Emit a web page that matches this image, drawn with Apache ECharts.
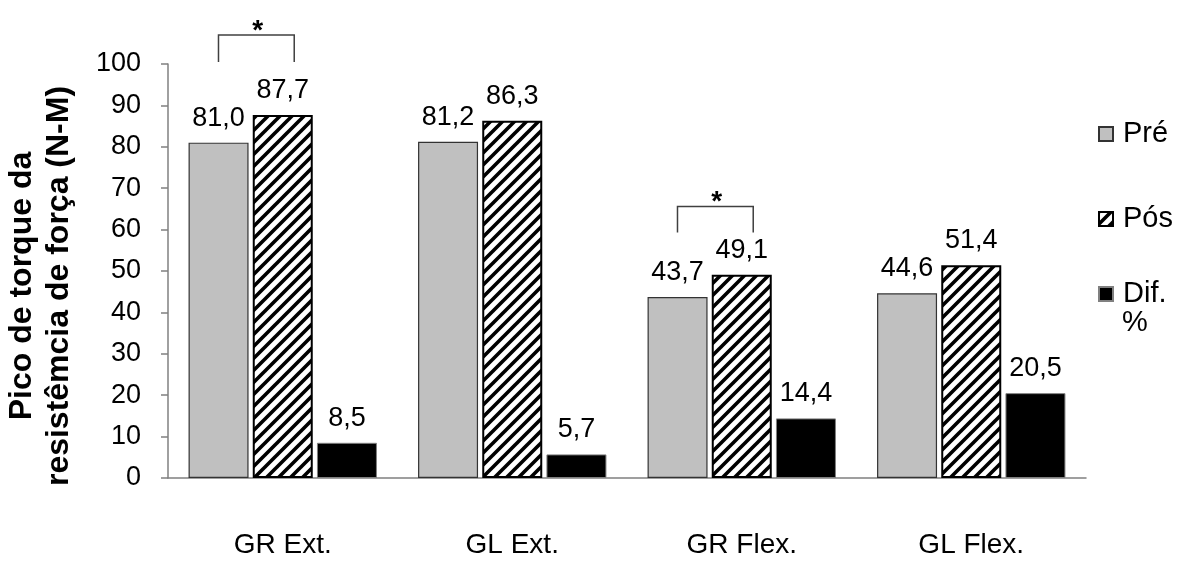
<!DOCTYPE html>
<html>
<head>
<meta charset="utf-8">
<script src="https://cdn.jsdelivr.net/npm/echarts@6/dist/echarts.min.js"></script>
<style>
html,body{margin:0;padding:0;background:#fff;}
#chart{width:1181px;height:561px;}
</style>
</head>
<body>
<div id="chart"></div>
<script>
const categories = ['GR Ext.', 'GL Ext.', 'GR Flex.', 'GL Flex.'];
const preValues = [81.0, 81.2, 43.7, 44.6];
const posValues = [87.7, 86.3, 49.1, 51.4];
const difValues = [8.5, 5.7, 14.4, 20.5];
const seriesNames = ['Pré', 'Pós', 'Dif.'];
const yMin = 0, yMax = 100, yStep = 10;
// significance brackets: [category index, bracket bottom level, bracket top level]
const sigBrackets = [[0, 100.5, 107], [2, 59.3, 65.6]];

const FONT = '"Liberation Sans", Arial, sans-serif';

function hatch() {
  const s = 12;
  const c = document.createElement('canvas');
  c.width = s; c.height = s;
  const g = c.getContext('2d');
  g.fillStyle = '#fff';
  g.fillRect(0, 0, s, s);
  g.strokeStyle = '#000';
  g.lineWidth = 3.6;
  g.lineCap = 'square';
  [-s, 0, s].forEach(a => {
    g.beginPath();
    g.moveTo(a - 2, s + 2);
    g.lineTo(a + s + 2, -2);
    g.stroke();
  });
  return c;
}

const fmt = p => p.value.toFixed(1).replace('.', ',');
const labelCfg = {show: true, position: 'top', distance: 11, formatter: fmt,
  fontSize: 27, color: '#000', fontFamily: FONT};

const chart = echarts.init(document.getElementById('chart'), null, {renderer: 'canvas'});

function legendAt(name, top, label) {
  return {
    data: [name], orient: 'vertical', left: 1098, top: top, padding: 0,
    itemWidth: 14, itemHeight: 14, icon: 'rect',
    formatter: () => label,
    textStyle: {fontSize: 29, color: '#000', fontFamily: FONT, lineHeight: 30, padding: [0, 0, 0, 5]},
    selectedMode: false
  };
}

chart.setOption({
  animation: false,
  backgroundColor: '#fff',
  grid: {left: 168, right: 95, top: 64, bottom: 83, containLabel: false, outerBoundsMode: 'none'},
  legend: [
    legendAt('Pré', 119, 'Pré'),
    legendAt('Pós', 204, 'Pós'),
    legendAt('Dif.', 279, 'Dif.')
  ],
  graphic: [{
    type: 'text', left: 1122, top: 308,
    style: {text: '%', fontSize: 29, fill: '#000', fontFamily: FONT}
  }],
  xAxis: {
    type: 'category', data: categories,
    axisLine: {show: true, lineStyle: {color: '#808080', width: 1.5}},
    axisTick: {show: false},
    axisLabel: {margin: 53, fontSize: 28, color: '#000', fontFamily: FONT}
  },
  yAxis: {
    type: 'value', min: yMin, max: yMax, interval: yStep,
    name: 'Pico de torque da\nresistêmcia de força (N-M)',
    nameLocation: 'middle', nameGap: 90, nameRotate: 90,
    nameTextStyle: {fontSize: 32, fontWeight: 'bold', color: '#000', fontFamily: FONT,
      lineHeight: 37, padding: [0, 30, 0, 0]},
    axisLine: {show: true, lineStyle: {color: '#808080', width: 1.5}},
    axisTick: {show: true, length: 7, lineStyle: {color: '#808080', width: 1.5}},
    splitLine: {show: false},
    axisLabel: {margin: 27, fontSize: 27, color: '#000', fontFamily: FONT}
  },
  series: [
    {name: seriesNames[0], type: 'bar', data: preValues, barWidth: 60, barGap: '7%',
      itemStyle: {color: '#c0c0c0', borderColor: '#333', borderWidth: 1.2}, label: labelCfg},
    {name: seriesNames[1], type: 'bar', data: posValues, barWidth: 60, barGap: '7%',
      itemStyle: {color: {image: hatch(), repeat: 'repeat'}, borderColor: '#000', borderWidth: 2}, label: labelCfg},
    {name: seriesNames[2], type: 'bar', data: difValues, barWidth: 60, barGap: '7%',
      itemStyle: {color: '#000', borderColor: '#808080', borderWidth: 1}, label: labelCfg},
    {
      type: 'custom', clip: false, z: 10, silent: true,
      data: sigBrackets, encode: {x: 0, y: [1, 2]},
      renderItem: function (params, api) {
        const c = api.value(0);
        const pb = api.coord([c, api.value(1)]);
        const pt = api.coord([c, api.value(2)]);
        const bw = api.size([1, 0])[0];
        const xl = pb[0] - bw * 0.28, xr = pb[0] + bw * 0.05;
        return {
          type: 'group', children: [
            {type: 'polyline', shape: {points: [[xl, pb[1]], [xl, pt[1]], [xr, pt[1]], [xr, pb[1]]]},
              style: {stroke: '#404040', lineWidth: 1.5, fill: 'none'}},
            {type: 'text', style: {text: '*', x: pb[0] - bw * 0.109, y: pt[1] - 4,
              fontSize: 28, fontWeight: 'bold', fill: '#000', fontFamily: FONT,
              align: 'center', verticalAlign: 'middle'}}
          ]
        };
      }
    }
  ]
});
</script>
</body>
</html>
